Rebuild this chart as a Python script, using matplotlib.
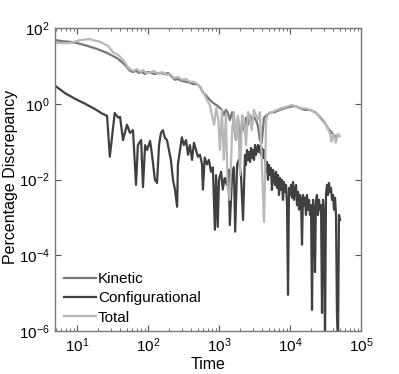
import matplotlib
matplotlib.use("Agg")
import matplotlib.pyplot as plt
from matplotlib.ticker import LogLocator, NullLocator, NullFormatter

plt.rcParams['font.family'] = ['Liberation Sans', 'DejaVu Sans']
plt.rcParams['mathtext.fontset'] = 'custom'
plt.rcParams['mathtext.rm'] = 'Liberation Sans'
plt.rcParams['mathtext.it'] = 'Liberation Sans:italic'

# ---------------- data ----------------
kin_t = [4.9, 6.1, 8.0, 10, 13.8, 19.1, 26.5, 36.6, 43, 50.6, 55.7, 61.5, 67.8, 74.8, 82.4,
         90.9, 100, 110, 125, 147, 173, 191, 218, 240, 264, 300, 343, 389, 430, 490,
         540, 593, 650, 720, 795, 875, 960, 1030, 1100, 1170, 1250, 1330, 1420, 1530,
         1620, 1730, 1850, 1980, 2110, 2250, 2400, 2560, 2730, 2900, 3200, 3500, 3770,
         4000, 4300, 4600, 5200, 6100, 7200, 8500, 10000, 11700, 13700, 16000, 19000,
         22600, 26500, 31000, 34000, 38000, 42000, 47000]
kin_v = [48, 45, 43, 40, 34, 28, 22, 16, 12.6, 9.3, 7.4, 6.9, 7.4, 6.5, 6.9,
         6.1, 6.9, 6.5, 6.1, 6.5, 6.1, 6.5, 5.1, 4.3, 4.5, 4.0, 3.8, 3.6, 3.3, 3.3,
         2.8, 2.0, 1.7, 1.35, 1.12, 0.98, 0.87, 0.77, 0.69, 0.50, 0.69, 0.58, 0.37, 0.60,
         0.28, 0.11, 0.43, 0.081, 0.37, 0.20, 0.43, 0.28, 0.50, 0.37, 0.43, 0.28, 0.11,
         0.093, 0.43, 0.48, 0.58, 0.60, 0.69, 0.77, 0.83, 0.87, 0.77, 0.69, 0.69,
         0.60, 0.45, 0.31, 0.23, 0.18, 0.14, 0.14]

conf_t = [4.9, 6.8, 9.4, 13, 18, 23, 26.5, 29, 34, 38, 40.4, 44.5, 50.6, 55.7, 61.5, 67.8,
          72, 80, 85, 91, 97, 107, 114, 125, 134, 143, 152, 162, 173, 185, 197, 210, 225,
          240, 257, 264, 282, 300, 320, 343, 366, 389, 417, 444, 475, 505, 540, 577, 593,
          630, 675, 720, 770, 820, 875, 910, 960, 1000, 1070, 1130, 1200, 1290, 1370, 1420,
          1530, 1620, 1690, 1800, 1900, 2040, 2180,
          2323, 2399, 2478, 2559, 2643, 2733, 2825, 2917, 3013, 3112, 3214, 3319, 3428,
          3540, 3656, 3776, 3908, 4036, 4169, 4305, 4446, 4592, 4742, 4898, 5058, 5224,
          5395, 5572, 5768, 5957, 6152, 6353, 6561, 6776, 6998, 7228, 7464, 7709, 7962,
          8222, 8511, 8790, 9078, 9376, 9683, 10000, 10330, 10670, 11020, 11380, 11750,
          12160, 12560, 12970, 13400, 13840, 14290, 14760, 15240, 15740, 16260, 16790,
          17340, 17950, 18530, 19140, 19770, 20420, 21090, 21780, 22490, 23230, 23990,
          24770, 25590, 26490, 27350, 28250, 29170, 30130, 31120, 32140, 33190, 34280,
          35400, 36560, 37760, 39080, 40360, 41690, 43050, 44460, 45920, 47420, 48980,
          50580]
conf_v = [3.0, 1.9, 1.35, 1.0, 0.72, 0.54, 0.48, 0.040, 0.57, 0.43, 0.45, 0.11, 0.28, 0.17, 0.20, 0.0072,
          0.081, 0.11, 0.0063, 0.081, 0.060, 0.104, 0.045, 0.0098, 0.0081, 0.081, 0.17, 0.20, 0.126, 0.11, 0.060, 0.033, 0.0098,
          0.0054, 0.0019, 0.025, 0.060, 0.13, 0.081, 0.11, 0.045, 0.081, 0.033, 0.093, 0.060, 0.040, 0.045, 0.025, 0.0054,
          0.038, 0.025, 0.033, 0.016, 0.021, 0.00047, 0.013, 0.00056, 0.0098, 0.016, 0.0054, 0.011, 0.0072, 0.018, 0.00063,
          0.013, 0.021, 0.00042, 0.025, 0.033, 0.013, 0.00085,
          0.0446, 0.0243, 0.060, 0.0329, 0.053, 0.0291, 0.068, 0.0372, 0.060, 0.0329, 0.0818, 0.0446, 0.060,
          0.0818, 0.053, 0.077, 0.0446, 0.068, 0.0372, 0.060, 0.0329, 0.0159, 0.0291, 0.0098, 0.0243, 0.0132,
          0.0202, 0.0053, 0.0179, 0.0110, 0.0072, 0.0159, 0.0060, 0.0132, 0.0039, 0.0110, 0.0053, 0.0098,
          0.0029, 0.0086, 0.0047, 0.0072, 0.0021, 9.0e-6, 0.0060, 0.0039, 0.0072, 0.0033, 0.0086, 0.0029,
          0.0053, 0.0072, 0.0021, 0.0047, 0.0016, 0.0039, 0.0029, 0.00019, 0.0039, 0.0021, 0.0033, 0.00116,
          0.0039, 0.0016, 0.0029, 0.00116, 0.0021, 3.6e-6, 0.0029, 0.0014, 3.6e-5, 0.0029, 0.0039,
          0.00116, 0.0029, 0.0016, 0.0021, 3.0e-6, 0.0029, 0.00116, 5e-7, 0.0039, 0.0072, 0.0039,
          0.0081, 0.0047, 0.0060, 0.0029, 0.0039, 0.0016, 0.0033, 0.00116, 2.4e-6, 5e-7, 0.00116,
          0.00086]

tot_t = [4.9, 6.1, 8.0, 11, 15, 21, 27.3, 32, 38, 44.5, 52, 57.7, 63.5, 70, 77, 85, 94,
         107, 121, 137, 157, 179, 205, 233, 264, 300, 343, 389, 444, 505, 556, 612, 675,
         743, 795, 853, 914, 980, 1030, 1100, 1170, 1250, 1330, 1420, 1530, 1620, 1730,
         1850, 1980, 2110, 2250, 2400, 2560, 2730, 2900, 3100, 3300, 3500, 3770, 4000,
         4300, 4450, 4600, 4900, 5600, 6600, 7600, 9000, 10600, 12600, 14800, 17400,
         20400, 24000, 28000, 32000, 36000, 38500, 41000, 44000, 47000, 50000]
tot_v = [40, 40, 40, 48, 51, 43, 34, 23, 19.5, 14.5, 9.3, 7.8, 7.4, 8.3, 6.9, 7.8, 6.5,
         6.5, 7.4, 6.1, 6.9, 5.8, 6.1, 4.8, 5.1, 4.3, 4.5, 3.8, 3.8, 3.2, 2.6, 1.9, 1.26,
         0.93, 0.50, 0.28, 0.77, 0.37, 0.060, 0.69, 0.033, 0.50, 0.0054, 0.0029, 0.20, 0.60, 0.11,
         0.48, 0.013, 0.50, 0.37, 0.081, 0.60, 0.43, 0.20, 0.69, 0.50, 0.37, 0.60, 0.033,
         0.00076, 0.0098, 0.37, 0.54, 0.60, 0.69, 0.77, 0.83, 0.93, 0.83, 0.77, 0.74,
         0.65, 0.54, 0.37, 0.28, 0.18, 0.10, 0.16, 0.093, 0.16, 0.14]

xlim = (4.9, 1e5)
ylim = (1e-6, 1e2)
yticks = [1e-6, 1e-4, 1e-2, 1e0, 1e2]

# ---------------- plot ----------------
fig = plt.figure(figsize=(3.99, 3.74), dpi=100)
ax = fig.add_axes([55/399, 1-331/374, 306/399, 303/374])

ax.plot(kin_t, kin_v, color='#777777', lw=1.6, label='Kinetic')
ax.plot(conf_t, conf_v, color='#404040', lw=1.6, label='Configurational')
ax.plot(tot_t, tot_v, color='#b8b8b8', lw=1.6, label='Total')

ax.set_xscale('log')
ax.set_yscale('log')
ax.set_xlim(*xlim)
ax.set_ylim(*ylim)
ax.set_yticks(yticks)
ax.yaxis.set_minor_locator(NullLocator())
ax.xaxis.set_major_locator(LogLocator(base=10, numticks=10))
ax.xaxis.set_minor_locator(LogLocator(base=10, subs=range(2, 10), numticks=20))
ax.xaxis.set_minor_formatter(NullFormatter())

for s in ax.spines.values():
    s.set_color('#7a7a7a')
    s.set_linewidth(1.0)
ax.tick_params(which='both', direction='in', top=True, right=True, color='#555555',
               labelsize=11, labelcolor='black')
ax.tick_params(which='major', length=4, width=0.8)
ax.tick_params(axis='x', which='major', pad=4)
ax.tick_params(axis='y', which='major', pad=4)
ax.tick_params(which='minor', length=2, width=0.6)

ax.set_xlabel('Time', fontsize=11.5)
ax.xaxis.set_label_coords(0.5, -0.087)
ax.set_ylabel('Percentage Discrepancy', fontsize=11.5)
ax.yaxis.set_label_coords(-0.122, 0.51)

leg = ax.legend(loc='upper left', bbox_to_anchor=(0.03, 0.195), frameon=False,
                fontsize=11, handlelength=2.1, handletextpad=0.1, labelspacing=0.35,
                borderpad=0, borderaxespad=0)

fig.savefig('out.png', dpi=100)
